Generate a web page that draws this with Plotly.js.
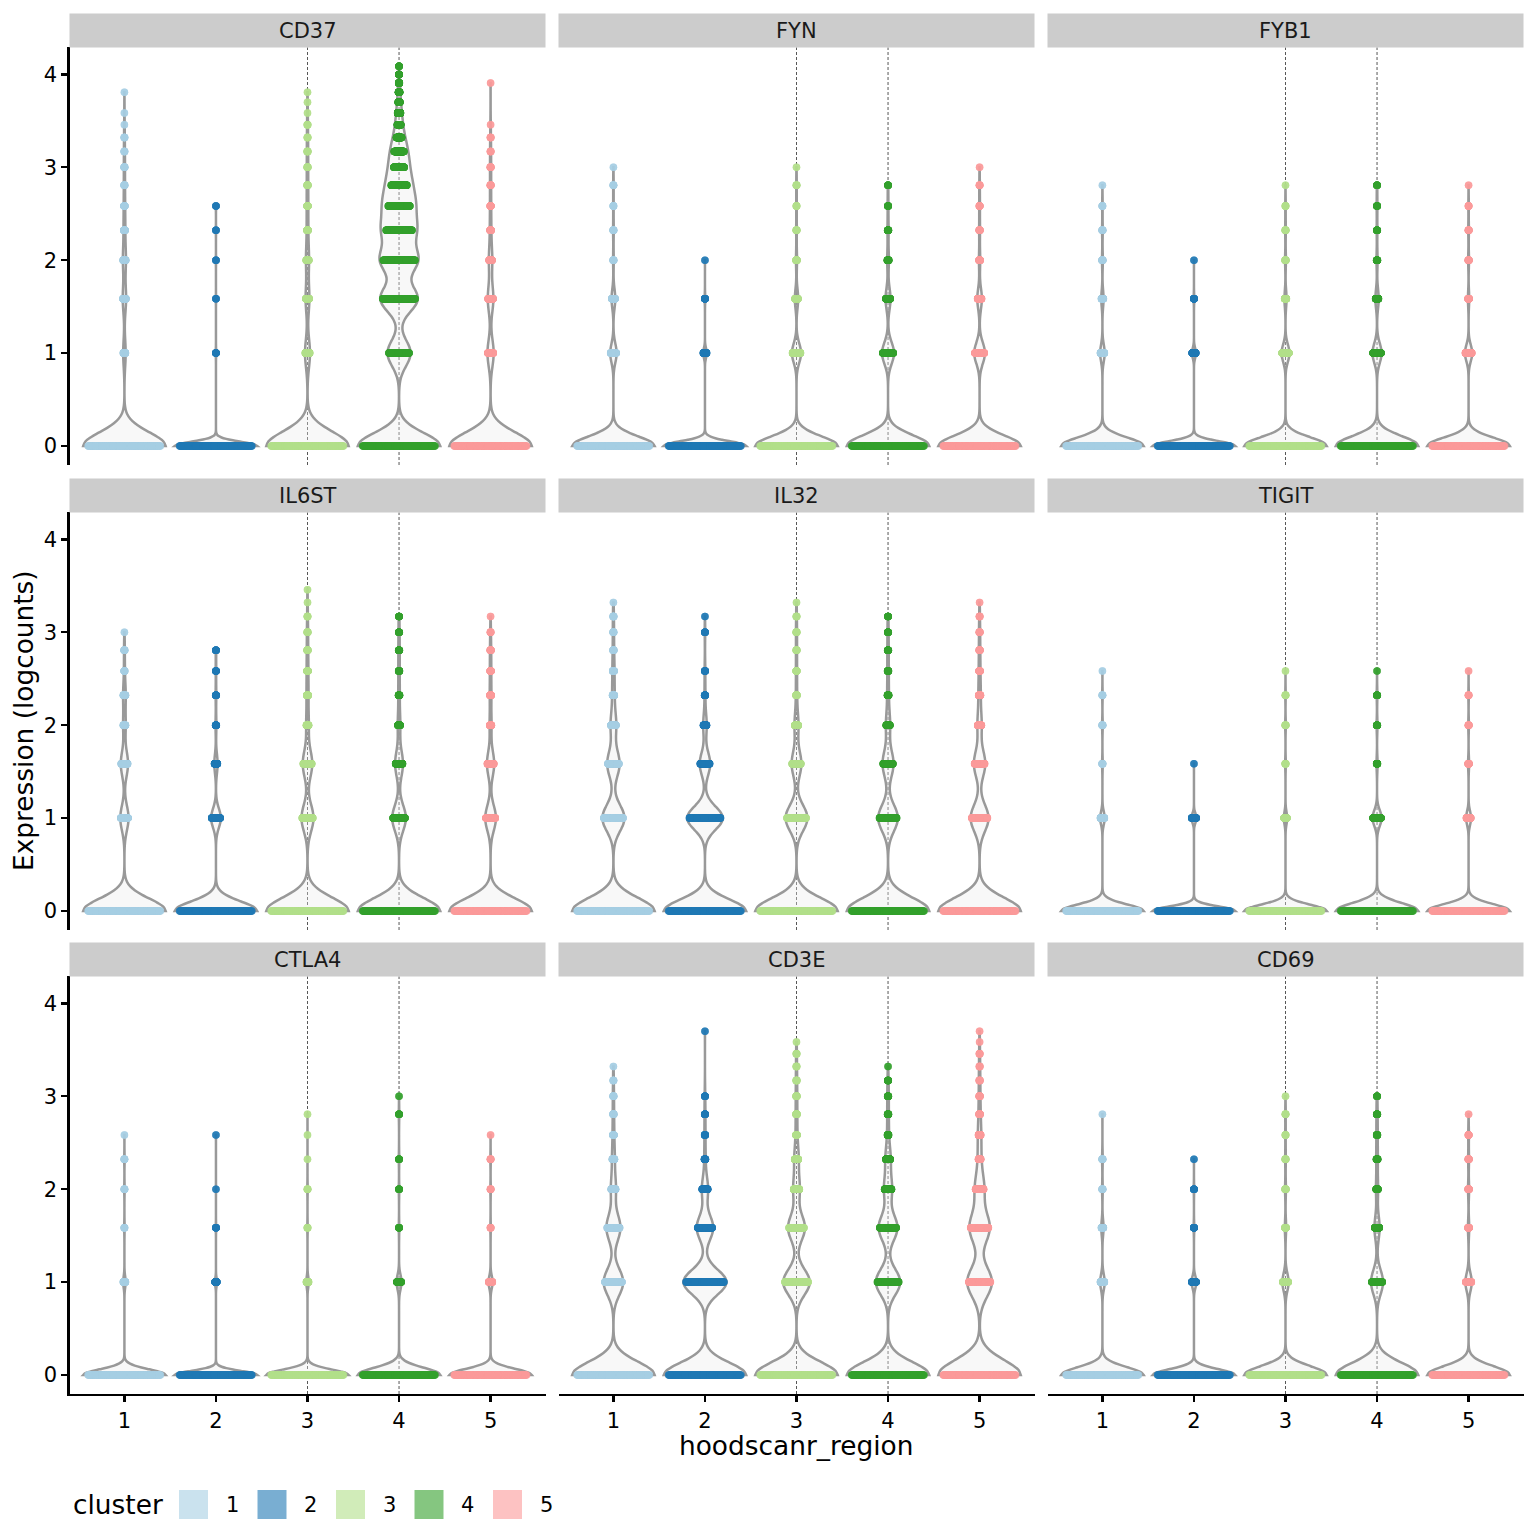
<!DOCTYPE html>
<html><head><meta charset="utf-8">
<script src="https://cdn.plot.ly/plotly-3.0.1.min.js"></script>
<style>html,body{margin:0;padding:0;background:#fff}#chart{width:1536px;height:1536px}</style>
</head><body><div id="chart"></div>
<script>
// ---------------- data ----------------
const genes = ["CD37", "FYN", "FYB1", "IL6ST", "IL32", "TIGIT", "CTLA4", "CD3E", "CD69"];
const regions = [1, 2, 3, 4, 5];
const clusterLabels = ["1", "2", "3", "4", "5"];
const clusterColors = ["#A6CEE3", "#1F78B4", "#B2DF8A", "#33A02C", "#FB9A99"];
const legendColors = ["#CAE2EE", "#79AED2", "#D1ECB9", "#85C680", "#FDC2C2"];
// discrete logcount levels observed on the y axis
const exprLevels = [0, 1, 1.585, 2, 2.322, 2.585, 2.807, 3, 3.17, 3.322, 3.459, 3.585, 3.7, 3.807, 3.907, 4, 4.087];
const yTicks = [0, 1, 2, 3, 4];
// number of cells at each expression level (index = level), one row per hoodscanr_region 1..5
const countsCD37 = [
  [1600, 48, 64, 56, 28, 20, 12, 12, 8, 8, 2, 2, 0, 2],
  [1600, 8, 4, 4, 4, 4],
  [1600, 96, 72, 56, 24, 20, 16, 12, 12, 8, 8, 2, 2, 2],
  [6400, 1792, 2880, 2816, 2300, 1900, 1344, 832, 768, 352, 192, 192, 64, 64, 32, 16, 8],
  [1600, 120, 108, 64, 24, 16, 12, 12, 8, 8, 2, 0, 0, 0, 2]
];
const countsFYN = [
  [1600, 124, 72, 12, 12, 8, 8, 2],
  [1600, 72, 12, 2],
  [1600, 176, 64, 20, 12, 8, 8, 2],
  [1600, 232, 96, 32, 20, 12, 8],
  [1600, 208, 88, 24, 16, 12, 8, 2]
];
const countsFYB1 = [
  [1600, 88, 44, 16, 12, 8, 2],
  [1600, 80, 12, 2],
  [1600, 152, 40, 16, 12, 8, 2],
  [1600, 176, 64, 20, 12, 12, 8],
  [1600, 140, 24, 16, 12, 8, 2]
];
const countsIL6ST = [
  [1600, 160, 140, 48, 48, 12, 12, 2],
  [1600, 188, 64, 16, 12, 8, 8],
  [1600, 232, 184, 48, 32, 24, 16, 12, 8, 2, 2],
  [1600, 264, 152, 48, 24, 20, 16, 12, 8],
  [1600, 208, 140, 36, 28, 20, 16, 8, 2]
];
const countsIL32 = [
  [1600, 428, 240, 108, 40, 32, 16, 12, 12, 2],
  [1600, 692, 204, 68, 16, 12, 0, 8, 2],
  [1600, 424, 188, 76, 20, 16, 12, 12, 8, 2],
  [1600, 380, 212, 80, 28, 20, 16, 12, 8],
  [1600, 348, 220, 80, 40, 24, 16, 12, 8, 2]
];
const countsTIGIT = [
  [1600, 88, 12, 12, 8, 2],
  [1600, 100, 2],
  [1600, 64, 12, 12, 8, 2],
  [1600, 176, 20, 16, 12, 2],
  [1600, 96, 20, 12, 8, 2]
];
const countsCTLA4 = [
  [1600, 48, 8, 8, 8, 2],
  [1600, 40, 8, 2, 0, 2],
  [1600, 48, 8, 8, 2, 2, 2],
  [1600, 96, 8, 8, 8, 0, 8, 2],
  [1600, 80, 8, 8, 8, 2]
];
const countsCD3E = [
  [1600, 380, 272, 96, 48, 24, 16, 12, 8, 2],
  [1600, 840, 320, 120, 24, 16, 12, 8, 0, 0, 0, 0, 2],
  [1600, 516, 328, 124, 80, 24, 20, 16, 12, 8, 8, 2],
  [1600, 472, 364, 152, 96, 24, 20, 16, 12, 2],
  [1600, 480, 392, 176, 48, 48, 20, 16, 12, 8, 8, 2, 2]
];
const countsCD69 = [
  [1600, 88, 44, 12, 12, 0, 2],
  [1600, 96, 12, 8, 2],
  [1600, 120, 24, 16, 12, 8, 8, 2],
  [1600, 232, 100, 40, 28, 20, 16, 8],
  [1600, 124, 24, 20, 16, 12, 2]
];
const geneCounts = [countsCD37, countsFYN, countsFYB1, countsIL6ST, countsIL32, countsTIGIT, countsCTLA4, countsCD3E, countsCD69];
const dashedRegions = [3, 4];

// ---------------- helpers ----------------
function expand(counts) {
  const out = [];
  counts.forEach((c, k) => { for (let i = 0; i < c; i++) out.push(exprLevels[k]); });
  return out;
}
function quantile7(sorted, p) {
  const h = (sorted.length - 1) * p, lo = Math.floor(h), hi = Math.ceil(h);
  return sorted[lo] + (h - lo) * (sorted[hi] - sorted[lo]);
}
function bwNrd0(x) {
  const n = x.length;
  const mean = x.reduce((a, b) => a + b, 0) / n;
  const sd = Math.sqrt(x.reduce((a, b) => a + (b - mean) * (b - mean), 0) / (n - 1));
  const s = x.slice().sort((a, b) => a - b);
  const iqr = quantile7(s, 0.75) - quantile7(s, 0.25);
  let lo = Math.min(sd, iqr / 1.34);
  if (!lo) lo = sd || Math.abs(x[0]) || 1;
  return 0.9 * lo * Math.pow(n, -0.2);
}
function vdc(n) {
  let v = 0, denom = 1;
  while (n > 0) { denom *= 2; v += (n % 2) / denom; n = Math.floor(n / 2); }
  return v;
}

// ---------------- geometry ----------------
const W = 1536, H = 1536;
const px = v => v / W;
const py = v => 1 - v / H;
const colPx = [[69.5, 545.5], [558.5, 1034.5], [1047.5, 1523.5]];
const rowPx = [[47.4, 465], [512.4, 930], [976.4, 1394]];
const stripH = 34;
const xRange = [0.4, 5.6], yRange = [-0.2044, 4.291];
const FONT = "DejaVu Sans";
const MAX_DRAWN_PER_LEVEL = 160; // overlapping points beyond this form the same solid band

const violinTraces = [], pointTraces = [], shapes = [], annotations = [];
const layout = {
  width: W, height: H, margin: {l: 0, r: 0, t: 0, b: 0},
  paper_bgcolor: "#fff", plot_bgcolor: "#fff",
  showlegend: false, violinmode: "overlay",
  font: {family: FONT, color: "#000"}
};

genes.forEach((gene, gi) => {
  const r = Math.floor(gi / 3), c = gi % 3, idx = gi + 1;
  const sfx = idx === 1 ? "" : String(idx);
  const xa = "x" + sfx, ya = "y" + sfx;
  const bottom = r === 2, left = c === 0;
  layout["xaxis" + sfx] = {
    domain: [px(colPx[c][0]), px(colPx[c][1])], range: xRange, type: "linear",
    anchor: ya, tickvals: regions, ticktext: regions.map(String),
    showgrid: false, zeroline: false,
    showline: bottom, linecolor: "#000", linewidth: 2.3,
    ticks: bottom ? "outside" : "", ticklen: 6, tickwidth: 2.3, tickcolor: "#000",
    showticklabels: bottom, tickfont: {size: 21, family: FONT, color: "#000"}
  };
  layout["yaxis" + sfx] = {
    domain: [py(rowPx[r][1]), py(rowPx[r][0])], range: yRange, type: "linear",
    anchor: xa, tickvals: yTicks, ticktext: yTicks.map(String),
    showgrid: false, zeroline: false,
    showline: left, linecolor: "#000", linewidth: 2.3,
    ticks: left ? "outside" : "", ticklen: 6, tickwidth: 2.3, tickcolor: "#000",
    showticklabels: left, tickfont: {size: 21, family: FONT, color: "#000"}
  };
  dashedRegions.forEach(xv => shapes.push({
    type: "line", xref: xa, yref: ya + " domain", x0: xv, x1: xv, y0: 0, y1: 1,
    line: {color: "#444", width: 0.9, dash: "3px,2px"}, layer: "below"
  }));
  shapes.push({
    type: "rect", xref: "paper", yref: "paper",
    x0: px(colPx[c][0]), x1: px(colPx[c][1]),
    y0: py(rowPx[r][0]), y1: py(rowPx[r][0] - stripH),
    fillcolor: "#CCCCCC", line: {width: 0}
  });
  annotations.push({
    xref: "paper", yref: "paper", x: px((colPx[c][0] + colPx[c][1]) / 2),
    y: py(rowPx[r][0] - stripH / 2 + 1), text: gene, showarrow: false,
    xanchor: "center", yanchor: "middle", font: {size: 21, family: FONT, color: "#1a1a1a"}
  });

  geneCounts[gi].forEach((counts, ri) => {
    const region = regions[ri];
    const samples = expand(counts);
    const bw = bwNrd0(samples);
    violinTraces.push({
      type: "violin", xaxis: xa, yaxis: ya, x0: region, y: samples,
      width: 0.9, scalemode: "width", spanmode: "hard", bandwidth: bw,
      points: false, box: {visible: false}, meanline: {visible: false},
      line: {color: "#999999", width: 2.5}, fillcolor: "rgba(235,235,235,0.35)",
      hoverinfo: "skip", showlegend: false
    });
    // quasirandom offsets: van der Corput sequence scaled by local density (half bandwidth)
    const hq = bw * 0.5;
    const dens = exprLevels.map((v) => counts.reduce((s, ck, k) =>
      s + ck * Math.exp(-0.5 * Math.pow((v - exprLevels[k]) / hq, 2)), 0));
    const maxD = Math.max(...counts.map((ck, k) => ck > 0 ? dens[k] : 0));
    const xs = [], ys = [];
    let start = 0;
    counts.forEach((ck, k) => {
      const w = 0.4 * dens[k] / maxD;
      const m = Math.min(ck, MAX_DRAWN_PER_LEVEL);
      for (let i = 0; i < m; i++) {
        xs.push(region + (vdc(start + 1 + i) - 0.5) * 2 * w);
        ys.push(exprLevels[k]);
      }
      start += ck;
    });
    pointTraces.push({
      type: "scatter", mode: "markers", xaxis: xa, yaxis: ya, x: xs, y: ys,
      marker: {size: 7.5, color: clusterColors[ri], opacity: 0.75, line: {width: 0}},
      hoverinfo: "skip", showlegend: false
    });
  });
});

annotations.push({
  xref: "paper", yref: "paper", x: px(796), y: py(1445), text: "hoodscanr_region",
  showarrow: false, xanchor: "center", yanchor: "middle", font: {size: 26.4, family: FONT, color: "#000"}
});
annotations.push({
  xref: "paper", yref: "paper", x: px(23), y: py(721), text: "Expression (logcounts)",
  textangle: -90, showarrow: false, xanchor: "center", yanchor: "middle",
  font: {size: 26.4, family: FONT, color: "#000"}
});
annotations.push({
  xref: "paper", yref: "paper", x: px(71), y: py(1504), text: "cluster",
  showarrow: false, xanchor: "left", yanchor: "middle", font: {size: 26.4, family: FONT, color: "#000"}
});
clusterLabels.forEach((lab, i) => {
  const x0 = 179 + 78.5 * i;
  shapes.push({
    type: "rect", xref: "paper", yref: "paper", x0: px(x0), x1: px(x0 + 29),
    y0: py(1519), y1: py(1490), fillcolor: legendColors[i], line: {width: 0}
  });
  annotations.push({
    xref: "paper", yref: "paper", x: px(x0 + 53), y: py(1505), text: lab,
    showarrow: false, xanchor: "center", yanchor: "middle", font: {size: 21, family: FONT, color: "#000"}
  });
});

layout.shapes = shapes;
layout.annotations = annotations;
Plotly.newPlot("chart", violinTraces.concat(pointTraces), layout, {staticPlot: true, displayModeBar: false});
</script>
</body></html>
